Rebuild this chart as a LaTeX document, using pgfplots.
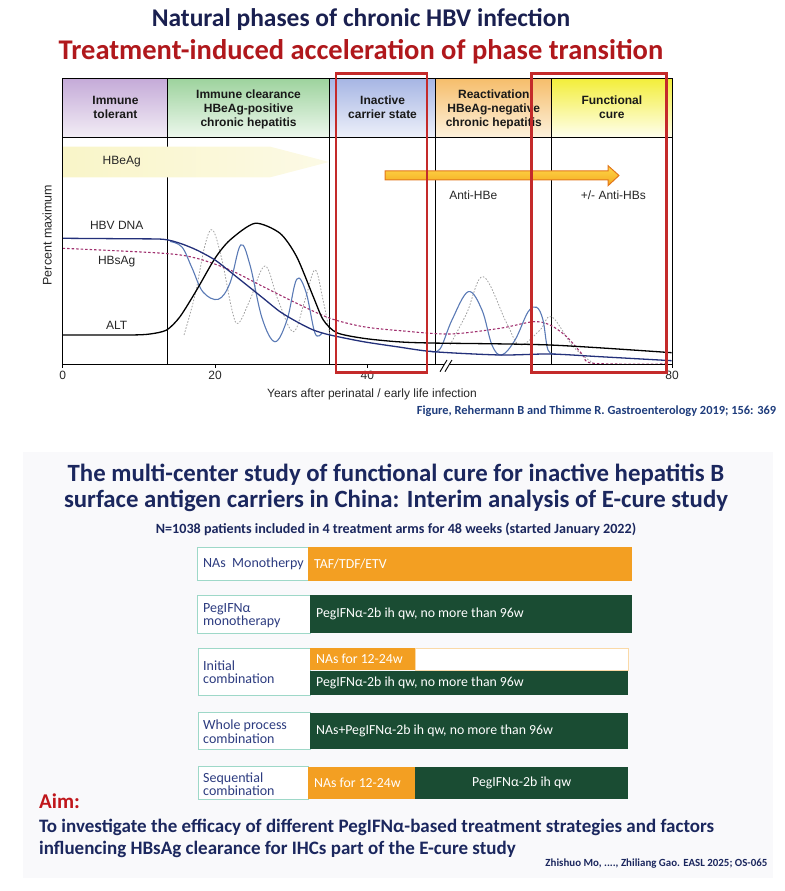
\documentclass[border=0pt]{standalone}
\usepackage{pgfplots}
\pgfplotsset{compat=1.18}
\usepackage{fontspec}
\setmainfont{Carlito}
\newfontfamily\arial{Liberation Sans}
\newcommand{\fs}[2]{\fontsize{#1bp}{#2bp}\selectfont}
\definecolor{titleNavy}{HTML}{1A2050}
\definecolor{titleRed}{HTML}{B0181C}
\definecolor{navyText}{HTML}{1B275E}
\definecolor{boxText}{HTML}{2D3C80}
\definecolor{boxBorder}{HTML}{9ED8C8}
\definecolor{orangeB}{HTML}{F39F22}
\definecolor{greenB}{HTML}{1A4C33}
\definecolor{footBlue}{HTML}{1E3C7C}
\definecolor{aimRed}{HTML}{C0161B}
\definecolor{panelgray}{HTML}{F9F9FB}
\definecolor{curveNavy}{HTML}{23307A}
\definecolor{curveBlue}{HTML}{5A7AB5}
\definecolor{curveMag}{HTML}{A0306E}
\definecolor{curveGray}{HTML}{A0A0A0}
\definecolor{redBox}{HTML}{C42A2A}
\definecolor{tolTop}{HTML}{C5ABD8}\definecolor{tolBot}{HTML}{F3EEF6}
\definecolor{clrTop}{HTML}{9ED39E}\definecolor{clrBot}{HTML}{EEF8EE}
\definecolor{inaTop}{HTML}{A7B6E4}\definecolor{inaBot}{HTML}{EEF1FA}
\definecolor{reaTop}{HTML}{F6BE6C}\definecolor{reaBot}{HTML}{FDF2DE}
\definecolor{funTop}{HTML}{F3EE3C}\definecolor{funBot}{HTML}{FFFFF0}
\definecolor{hbeL}{HTML}{F9F5C8}\definecolor{hbeR}{HTML}{FCFAE6}
\definecolor{arrTop}{HTML}{FFD84A}\definecolor{arrBot}{HTML}{F3A81E}\definecolor{arrLine}{HTML}{E2761B}
\newcommand{\rect}[5]{\addplot[#5] coordinates {(#1,#2)(#3,#2)(#3,#4)(#1,#4)} --cycle;}
\begin{document}
\begin{tikzpicture}
\useasboundingbox (0,0) rectangle (785bp,891bp);
% ---------------- canvas axis (pixel coordinates, y downwards)
\begin{axis}[at={(0,0)}, anchor=south west, scale only axis, width=785bp, height=891bp,
  xmin=0, xmax=785, ymin=0, ymax=891, y dir=reverse, hide axis, clip=false]
\rect{23}{452}{773}{878}{fill=panelgray, draw=none}
\node[anchor=base, font=\bfseries\fs{25.5}{28}, text=titleNavy] at (axis cs:361,27) {Natural phases of chronic HBV infection};
\node[anchor=base, font=\bfseries\fs{28.5}{32}, text=titleRed] at (axis cs:361,60) {Treatment-induced acceleration of phase transition};
\node[anchor=base west, inner sep=0, font=\bfseries\fs{12.4}{14}, text=footBlue] at (axis cs:416.7,414) {Figure, Rehermann B and Thimme R. Gastroenterology 2019; 156: 369};
\node[anchor=base, font=\bfseries\fs{24.8}{27}, text=navyText] at (axis cs:396,481) {The multi-center study of functional cure for inactive hepatitis B};
\node[anchor=base, font=\bfseries\fs{24.8}{27}, text=navyText] at (axis cs:396,507) {surface antigen carriers in China: Interim analysis of E-cure study};
\node[anchor=base, font=\bfseries\fs{14.1}{16}, text=navyText] at (axis cs:396,533) {N=1038 patients included in 4 treatment arms for 48 weeks (started January 2022)};
% box 1
\rect{197.3}{547.3}{308.3}{580.7}{fill=white, draw=boxBorder, line width=1bp}
\rect{308.3}{547.3}{631.7}{580.7}{fill=orangeB, draw=none}
% box 2
\rect{197.3}{595}{310}{633.3}{fill=white, draw=boxBorder, line width=1bp}
\rect{310}{595}{631.7}{633.3}{fill=greenB, draw=none}
% box 3
\rect{198.3}{648.3}{310}{695}{fill=white, draw=boxBorder, line width=1bp}
\rect{415}{648.3}{628.3}{670.3}{fill=white, draw=orangeB!40, line width=1bp}
\rect{310}{648.3}{415}{670.3}{fill=orangeB, draw=none}
\rect{310}{670.7}{628.3}{695}{fill=greenB, draw=none}
% box 4
\rect{198.3}{712.7}{310}{749.3}{fill=white, draw=boxBorder, line width=1bp}
\rect{310}{712.7}{628.3}{749.3}{fill=greenB, draw=none}
% box 5
\rect{198.3}{766.7}{308.3}{799.3}{fill=white, draw=boxBorder, line width=1bp}
\rect{308.3}{766.7}{415}{799.3}{fill=orangeB, draw=none}
\rect{415}{766.7}{628.3}{799.3}{fill=greenB, draw=none}
\tikzset{lab/.style={anchor=west, inner sep=0, align=left, font=\fs{14}{13.6}, text=boxText},
         wt/.style={anchor=west, inner sep=0, font=\fs{13.8}{15}, text=white}}
\node[lab] at (axis cs:203,564) {NAs\ \ Monotherpy};
\node[wt] at (axis cs:314,564) {TAF/TDF/ETV};
\node[lab] at (axis cs:203,615.5) {PegIFNα\\monotherapy};
\node[wt] at (axis cs:316,614) {PegIFNα-2b ih qw, no more than 96w};
\node[lab] at (axis cs:203,672) {Initial\\combination};
\node[wt] at (axis cs:316,659) {NAs for 12-24w};
\node[wt] at (axis cs:316,683) {PegIFNα-2b ih qw, no more than 96w};
\node[lab] at (axis cs:203,731.5) {Whole process\\combination};
\node[wt] at (axis cs:316,731) {NAs+PegIFNα-2b ih qw, no more than 96w};
\node[lab] at (axis cs:203,784) {Sequential\\combination};
\node[wt] at (axis cs:314,783.3) {NAs for 12-24w};
\node[wt, anchor=center] at (axis cs:521.7,783.3) {PegIFNα-2b ih qw};
\node[anchor=base west, inner sep=0, font=\bfseries\fs{21}{24}, text=aimRed] at (axis cs:39,808) {Aim:};
\node[anchor=base west, inner sep=0, font=\bfseries\fs{19}{21}, text=navyText] at (axis cs:39,832) {To investigate the efficacy of different PegIFNα-based treatment strategies and factors};
\node[anchor=base west, inner sep=0, font=\bfseries\fs{19}{21}, text=navyText] at (axis cs:39,854.5) {influencing HBsAg clearance for IHCs part of the E-cure study};
\node[anchor=base east, inner sep=0, font=\bfseries\fs{10.9}{12}, text=navyText] at (axis cs:767.5,866) {Zhishuo Mo, ...., Zhiliang Gao. EASL 2025; OS-065};
\end{axis}
% ---------------- chart axis (years, pixels above x axis)
\begin{axis}[at={(62.7bp,526bp)}, anchor=south west, scale only axis, width=609.3bp, height=286bp,
  xmin=0, xmax=80, ymin=0, ymax=286,
  axis line style={line width=1bp, black},
  xtick={0,20,40,80}, ytick=\empty, xtick pos=bottom, tick align=outside,
  major tick length=3bp, tick style={line width=0.8bp, black},
  xticklabel style={font=\arial\fs{12}{14}, text=black!85},
  /pgf/number format/assume math mode=true,
  axis on top]
% header
\rect{0}{227}{13.8}{286}{draw=none, top color=tolTop, bottom color=tolBot}
\rect{13.8}{227}{35.0}{286}{draw=none, top color=clrTop, bottom color=clrBot}
\rect{35.0}{227}{49.0}{286}{draw=none, top color=inaTop, bottom color=inaBot}
\rect{49.0}{227}{64.2}{286}{draw=none, top color=reaTop, bottom color=reaBot}
\rect{64.2}{227}{80}{286}{draw=none, top color=funTop, bottom color=funBot}
\addplot[line width=1bp, black] coordinates {(0,227)(80,227)};
\addplot[line width=0.9bp, black] coordinates {(13.8,0)(13.8,286)};
\addplot[line width=0.9bp, black] coordinates {(35.0,0)(35.0,286)};
\addplot[line width=0.9bp, black] coordinates {(49.0,0)(49.0,286)};
\addplot[line width=0.9bp, black] coordinates {(64.2,0)(64.2,286)};
\tikzset{hd/.style={align=center, font=\arial\bfseries\fs{12}{14}, text=black!90}}
\node[hd] at (axis cs:6.93,258) {Immune\\tolerant};
\node[hd] at (axis cs:24.4,256) {Immune clearance\\HBeAg-positive\\chronic hepatitis};
\node[hd] at (axis cs:42.0,258) {Inactive\\carrier state};
\node[hd] at (axis cs:56.6,256) {Reactivation\\HBeAg-negative\\chronic hepatitis};
\node[hd] at (axis cs:72.1,258) {Functional\\cure};
% HBeAg band
\addplot[draw=none, left color=hbeL, right color=hbeR] coordinates {(0,187.7)(27.26,187.7)(34.97,203)(27.26,218.3)(0,218.3)} --cycle;
% curves
\addplot[curveGray, line width=0.8bp, dash pattern=on 1.6bp off 1.6bp, smooth, tension=0.6] coordinates {
(15.93,30)(17.37,70)(18.69,120)(19.69,135)(20.91,105)(22.23,55)(23.06,41.7)(24.59,65)(26.56,99)(28.27,65)(30.28,33.3)(31.81,65)(33.13,95)(34.18,65)(35.10,30)};
\addplot[curveGray, line width=0.8bp, dash pattern=on 1.6bp off 1.6bp, smooth, tension=0.6] coordinates {
(50.85,20)(53.04,51.7)(55.22,88.3)(58.30,41.7)(60.04,20)(62.67,35)(64.20,48.3)(67.04,18.3)(69.67,1.7)};
\addplot[curveMag, line width=1.1bp, dash pattern=on 2.5bp off 2bp, smooth, tension=0.5] coordinates {
(0,116.7)(13.21,111.7)(17.59,106.7)(21.97,95)(26.34,78.3)(30.72,61.7)(35.10,46.7)(39.47,38.3)(44.29,34.3)(50.85,31)(57.42,36.7)(61.79,43.3)(63.98,40)(66.17,28.3)(68.31,10)(69.67,1.7)(79.30,1)};
\addplot[curveBlue, line width=1.1bp, smooth, tension=0.6] coordinates {
(14.09,123.5)(15.66,118)(16.98,97)(18.42,73)(20.43,65.7)(21.97,82)(23.37,120)(24.59,100)(26.17,47)(27.87,23.3)(29.45,45)(30.72,85.7)(31.94,73)(33.13,31.7)(34.04,32)};
\addplot[curveBlue, line width=1.1bp, smooth, tension=0.6] coordinates {
(48.23,14)(49.54,16)(51.11,45)(53.25,73.3)(55.05,55)(56.36,20)(57.64,10)(59.39,25)(61.09,53)(62.23,57.7)(63.06,45)(63.72,15)(64.77,11)};
\addplot[black, line width=1.3bp, smooth, tension=0.45] coordinates {
(0,30)(8.84,30)(11.46,31)(13.65,35)(15.40,48.3)(17.59,75)(20.0,106.7)(21.97,125)(25.25,141.7)(28.53,131.7)(30.72,108.3)(32.90,68.3)(34.22,45)(35.98,32.3)(39.47,26.7)(43.85,23.3)(48.23,22)(63.98,20)(79.96,12.3)};
\addplot[curveNavy, line width=1.3bp, smooth, tension=0.45] coordinates {
(0,126.7)(8.84,126.2)(13.21,125.7)(15.40,121.7)(17.59,115)(20.0,105)(21.97,93.3)(24.16,80)(26.34,66.7)(28.53,53.3)(30.72,43.3)(32.90,35)(35.10,30)(39.47,23.3)(43.85,18.3)(48.66,13.3)(57.42,10)(63.98,11)(70.54,8.3)(79.96,4.3)};
% labels
\tikzset{cl/.style={font=\arial\fs{12}{14}, text=black!85}}
\node[cl] at (axis cs:7.75,203.3) {HBeAg};
\node[cl] at (axis cs:7.09,140) {HBV DNA};
\node[cl] at (axis cs:7.09,103.3) {HBsAg};
\node[cl] at (axis cs:7.09,40) {ALT};
\node[cl] at (axis cs:53.91,170) {Anti-HBe};
\node[cl] at (axis cs:72.3,170) {+/- Anti-HBs};
\end{axis}
% ---------------- overlay (same geometry)
\begin{axis}[at={(62.7bp,526bp)}, anchor=south west, scale only axis, width=609.3bp, height=286bp,
  xmin=0, xmax=80, ymin=0, ymax=286, hide axis, clip=false]
\addplot[fill=white, draw=none] coordinates {(49.54,-6.7)(50.19,-6.7)(51.11,5)(50.46,5)} --cycle;
\addplot[black, line width=0.9bp] coordinates {(49.54,-6.7)(50.46,5)};
\addplot[black, line width=0.9bp] coordinates {(50.19,-6.7)(51.11,5)};
\addplot[draw=arrLine, line width=1bp, top color=arrTop, bottom color=arrBot] coordinates {(42.32,185)(71.6,185)(71.6,179.3)(73.04,189.5)(71.6,199.3)(71.6,194)(42.32,194)} --cycle;
\addplot[draw=redBox, line width=2.6bp] coordinates {(35.88,291.7)(47.84,291.7)(47.84,-7.7)(35.88,-7.7)} --cycle;
\addplot[draw=redBox, line width=2.6bp] coordinates {(61.58,291.7)(79.30,291.7)(79.30,-7.7)(61.58,-7.7)} --cycle;
\node[anchor=base, font=\arial\fs{12}{14}, text=black!85] at (axis cs:40.61,-32.5) {Years after perinatal / early life infection};
\node[rotate=90, font=\arial\fs{12.5}{14}, text=black!85] at (axis cs:-2.04,130) {Percent maximum};
\end{axis}
\end{tikzpicture}
\end{document}
